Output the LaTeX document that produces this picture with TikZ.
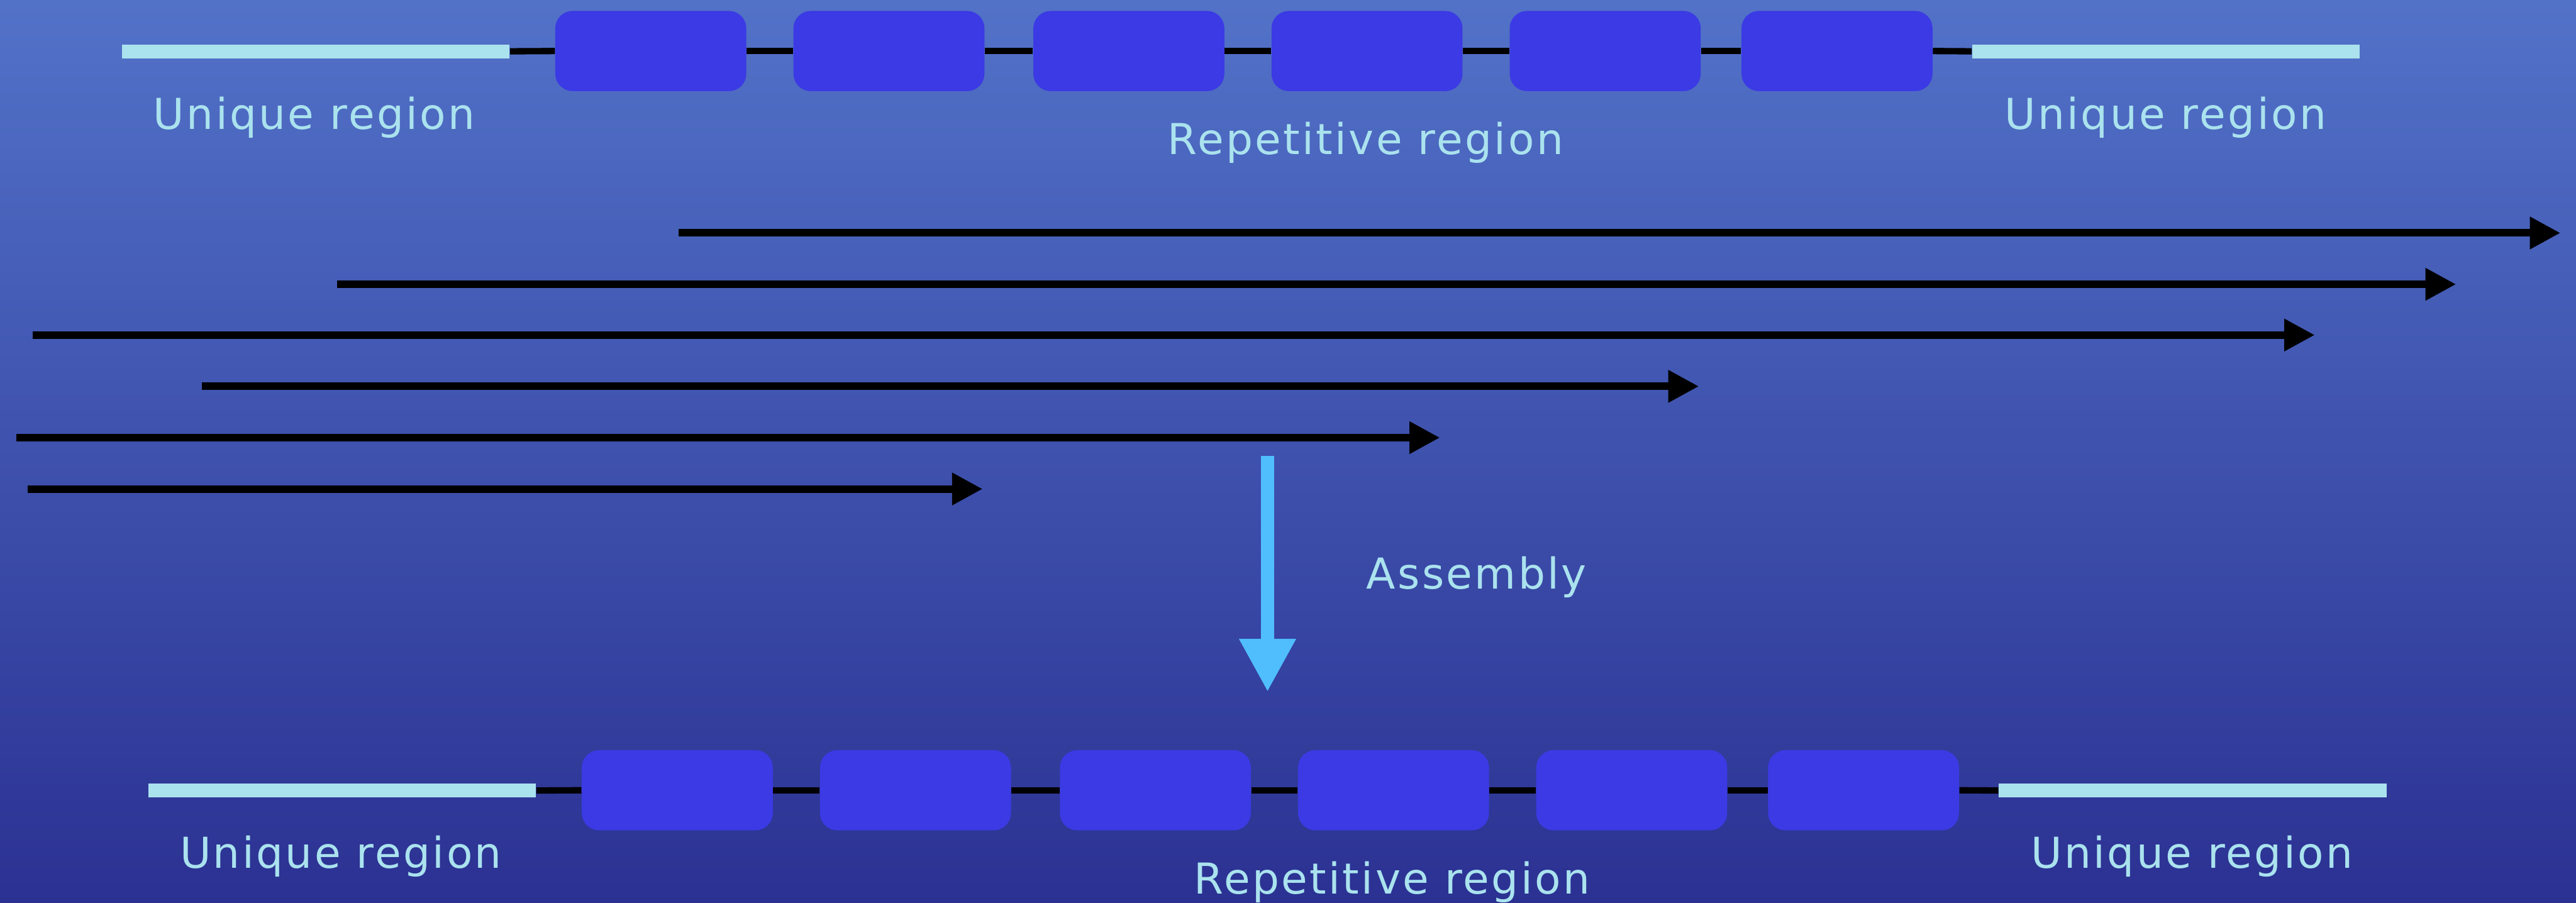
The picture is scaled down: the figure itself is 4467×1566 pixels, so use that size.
\documentclass[tikz,border=0pt]{standalone}
\usepackage{fontspec}
\setmainfont{DejaVu Sans}[LetterSpace=5]
\usetikzlibrary{arrows.meta}
\definecolor{bgtop}{RGB}{82,114,200}
\definecolor{bgbot}{RGB}{43,49,146}
\definecolor{barc}{RGB}{170,226,238}
\definecolor{blkc}{RGB}{59,58,228}
\definecolor{asmc}{RGB}{80,190,252}
\begin{document}
\begin{tikzpicture}[x=0.01cm,y=-0.01cm,
  uniq/.style={rectangle, fill=barc, draw=none, inner sep=0pt, minimum width=6.72cm, minimum height=0.24cm},
  repblock/.style={rectangle, fill=blkc, draw=none, inner sep=0pt, minimum width=3.31cm, minimum height=1.39cm, rounded corners=0.3cm},
  lbl/.style={text=barc, font=\fontsize{21pt}{24pt}\selectfont, anchor=base, inner sep=0pt},
  backbone/.style={line width=0.11cm, black},
  readarrow/.style={line width=0.13cm, black, -{Triangle[length=0.53cm,width=0.53cm]}},
  asmarrow/.style={line width=0.23cm, asmc, -{Triangle[length=0.92cm,width=0.92cm]}}]
\useasboundingbox (0,0) rectangle (4467,1566);
\shade[top color=bgtop, bottom color=bgbot] (0,0) rectangle (4467,1566);

\foreach \r/\dx/\dy in {t/0/0, b/46/1282}{
\begin{scope}[shift={(\dx,\dy)}]
  \node[uniq] (\r-ul) at (547.5,89) {};
  \node[uniq] (\r-ur) at (3756,89) {};
  \node[repblock] (\r-b1) at (1128.5,88.5) {};
  \node[repblock] (\r-b2) at (1541.5,88.5) {};
  \node[repblock] (\r-b3) at (1957.5,88.5) {};
  \node[repblock] (\r-b4) at (2370.5,88.5) {};
  \node[repblock] (\r-b5) at (2783.5,88.5) {};
  \node[repblock] (\r-b6) at (3185.5,88.5) {};
  \draw[backbone] (\r-ul.east) -- (\r-b1.west);
  \draw[backbone] (\r-b1.east) -- (\r-b2.west);
  \draw[backbone] (\r-b2.east) -- (\r-b3.west);
  \draw[backbone] (\r-b3.east) -- (\r-b4.west);
  \draw[backbone] (\r-b4.east) -- (\r-b5.west);
  \draw[backbone] (\r-b5.east) -- (\r-b6.west);
  \draw[backbone] (\r-b6.east) -- (\r-ur.west);
  \node[lbl] (\r-tul) at (545,224) {Unique region};
  \node[lbl] (\r-tur) at (3755,224) {Unique region};
  \node[lbl] (\r-trep) at (2368,268) {Repetitive region};
\end{scope}
}

% reads
\coordinate (r1s) at (1177,404); \coordinate (r1e) at (4440,404);
\coordinate (r2s) at (584,493);  \coordinate (r2e) at (4259,493);
\coordinate (r3s) at (57,581);   \coordinate (r3e) at (4014,581);
\coordinate (r4s) at (350,670);  \coordinate (r4e) at (2946,670);
\coordinate (r5s) at (28,759);   \coordinate (r5e) at (2497,759);
\coordinate (r6s) at (48,848);   \coordinate (r6e) at (1704,848);
\draw[readarrow] (r1s) -- (r1e);
\draw[readarrow] (r2s) -- (r2e);
\draw[readarrow] (r3s) -- (r3e);
\draw[readarrow] (r4s) -- (r4e);
\draw[readarrow] (r5s) -- (r5e);
\draw[readarrow] (r6s) -- (r6e);

% assembly
\coordinate (as) at (2198,791);
\coordinate (ae) at (2198,1200);
\draw[asmarrow] (as) -- (ae);
\node[lbl, anchor=base west] (asmlbl) at (2369,1021) {Assembly};
\end{tikzpicture}
\end{document}
